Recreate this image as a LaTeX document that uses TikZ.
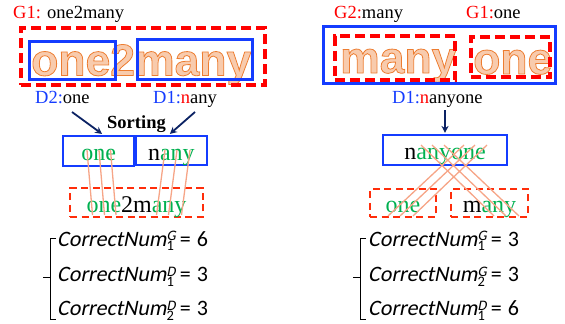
\documentclass[tikz,border=0pt]{standalone}
\usepackage{fontspec}
\setmainfont{Liberation Serif}
\newfontfamily\bigsans{Liberation Sans}
\newfontfamily\eqfont{Carlito}
\newfontfamily\eqit{Carlito}[FakeSlant=0.2]
\usetikzlibrary{arrows.meta}
\definecolor{redc}{RGB}{255,0,0}
\definecolor{dashred}{RGB}{255,45,10}
\definecolor{bluec}{RGB}{20,60,255}
\definecolor{greenc}{RGB}{0,176,80}
\definecolor{ofill}{RGB}{248,203,173}
\definecolor{navy}{RGB}{12,35,100}
\definecolor{mapc}{RGB}{246,165,135}
\newcommand\outl[1]{\special{pdf:literal direct 2 Tr 0.8 w 0.929 0.490 0.192 RG}#1\special{pdf:literal direct 0 Tr}}
\newcommand\gr[1]{\textcolor{greenc}{#1}}
\newcommand\cnum[3]{{\eqit CorrectNum}\rlap{\raisebox{5.5pt}{\fontsize{14.5}{14.5}\selectfont\eqit #1}}\raisebox{-4.5pt}{\fontsize{14.5}{14.5}\selectfont #2}\hspace{6pt}=\hspace{6pt}#3}
\begin{document}
\begin{tikzpicture}[x=1pt,y=-1pt,
  lab/.style={font=\fontsize{18.5}{20}\selectfont, inner sep=0pt, anchor=base west},
  boxtext/.style={font=\fontsize{24}{26}\selectfont, inner sep=0pt, anchor=base},
  bigtext/.style={font=\bigsans\bfseries\fontsize{44.5}{48}\selectfont, inner sep=0pt, anchor=base west, text=ofill},
  bluebox/.style={draw=bluec, line width=3pt, inner sep=0pt},
  blueboxs/.style={draw=bluec, line width=2.5pt, inner sep=0pt},
  redbig/.style={draw=redc, line width=3.5pt, dash pattern=on 10pt off 5pt, inner sep=0pt},
  redsmall/.style={draw=dashred, line width=2.5pt, dash pattern=on 7pt off 4.5pt, inner sep=0pt},
  navyarrow/.style={draw=navy, line width=1.8pt, -{Stealth[length=7pt,width=7pt]}},
  mapline/.style={draw=mapc, line width=1.3pt},
  eqtext/.style={font=\eqfont\fontsize{22}{24}\selectfont, inner sep=0pt, anchor=base west},
  bracket/.style={draw=black, line width=0.9pt}]
\useasboundingbox (0,0) rectangle (565,324);

% ---------- left top ----------
\node[lab] (g1l) at (13,19) {\textcolor{redc}{G1:} one2many};
\node[bigtext] (bigl) at (31,75.5) {\outl{one2many}};
\node[redbig, minimum width=244pt, minimum height=57pt] (rb1) at (143,56.5) {};
\node[bluebox, minimum width=86pt, minimum height=38pt] (bb1) at (72.5,60.5) {};
\node[bluebox, minimum width=115pt, minimum height=40pt] (bb2) at (195,59.5) {};
\node[lab] (d2l) at (35,103) {\textcolor{bluec}{D2:}one};
\node[lab] (d1l) at (153,103) {\textcolor{bluec}{D1:}\textcolor{redc}{n}any};

% ---------- right top ----------
\node[lab] (g2r) at (334,18) {\textcolor{redc}{G2:}many};
\node[lab] (g1r) at (466,18) {\textcolor{redc}{G1:}one};
\node[bigtext] (bigr1) at (340,73) {\outl{many}};
\node[bigtext] (bigr2) at (473,74) {\outl{one}};
\node[bluebox, minimum width=232pt, minimum height=57pt] (bb3) at (439.5,55) {};
\node[redbig, minimum width=120.4pt, minimum height=44.4pt] (rb2) at (395,58) {};
\node[redbig, minimum width=79.4pt, minimum height=40.4pt] (rb3) at (510.5,57) {};
\node[lab] (d1r) at (392,103) {\textcolor{bluec}{D1:}\textcolor{redc}{n}anyone};

% ---------- left middle ----------
\node[font=\bfseries\fontsize{18.5}{20}\selectfont, inner sep=0pt, anchor=base] (sort) at (136.5,128) {Sorting};
\node[blueboxs, minimum width=70.8pt, minimum height=29.6pt] (bb4) at (98.6,151) {};
\node[blueboxs, minimum width=70.8pt, minimum height=28.6pt] (bb5) at (171.4,150.5) {};
\node[boxtext] (t4) at (98.6,160) {\gr{one}};
\node[boxtext] (t5) at (171.4,160) {n\gr{any}};
\node[redsmall, minimum width=132.6pt, minimum height=28.6pt] (rb4) at (136.5,202.5) {};
\node[boxtext] (t6) at (136.5,212) {\gr{one}2m\gr{any}};

% ---------- right middle ----------
\node[blueboxs, minimum width=123.6pt, minimum height=29.6pt] (bb6) at (445,150) {};
\node[boxtext] (t7) at (445,159) {n\gr{anyone}};
\node[redsmall, minimum width=65.6pt, minimum height=27.6pt] (rb5) at (403,203) {};
\node[redsmall, minimum width=76.6pt, minimum height=27.6pt] (rb6) at (489.5,203) {};
\node[boxtext] (t8) at (403,212) {\gr{one}};
\node[boxtext] (t9) at (489.5,212) {m\gr{any}};

% ---------- mapping lines ----------
\draw[mapline] (87,150) -- (92.5,215);
\draw[mapline] (99,150) -- (104.5,215);
\draw[mapline] (110.5,150) -- (116,215);
\draw[mapline] (165,150) -- (156.5,215);
\draw[mapline] (177,150) -- (168.5,215);
\draw[mapline] (190,150) -- (181.5,215);

\draw[mapline] (421,145) -- (494,216);
\draw[mapline] (432,145) -- (506,216);
\draw[mapline] (444,145) -- (519,216);
\draw[mapline] (464,145) -- (388,216);
\draw[mapline] (475,145) -- (400,216);
\draw[mapline] (487,145) -- (413,216);

% ---------- arrows ----------
\coordinate (a1s) at (72,112);
\coordinate (a2s) at (195,112);
\coordinate (a3s) at (445,110);
\draw[navyarrow] (a1s) -- ([xshift=3.5pt,yshift=1pt]bb4.north);
\draw[navyarrow] (a2s) -- ([xshift=-1.5pt,yshift=1pt]bb5.north);
\draw[navyarrow] (a3s) -- ([yshift=1pt]bb6.north);

% ---------- equations ----------
\draw[bracket] (56,238) -- (50.5,238) -- (50.5,319) -- (56,319);
\draw[bracket] (43,277) -- (50.5,277);
\node[eqtext] (e1) at (57,246) {\cnum{G}{1}{6}};
\node[eqtext] (e2) at (57,281.5) {\cnum{D}{1}{3}};
\node[eqtext] (e3) at (57,315.5) {\cnum{D}{2}{3}};

\draw[bracket] (366,238) -- (360.5,238) -- (360.5,319) -- (366,319);
\draw[bracket] (353,277) -- (360.5,277);
\node[eqtext] (e4) at (368,246) {\cnum{G}{1}{3}};
\node[eqtext] (e5) at (368,281.5) {\cnum{G}{2}{3}};
\node[eqtext] (e6) at (368,315.5) {\cnum{D}{1}{6}};
\end{tikzpicture}
\end{document}
